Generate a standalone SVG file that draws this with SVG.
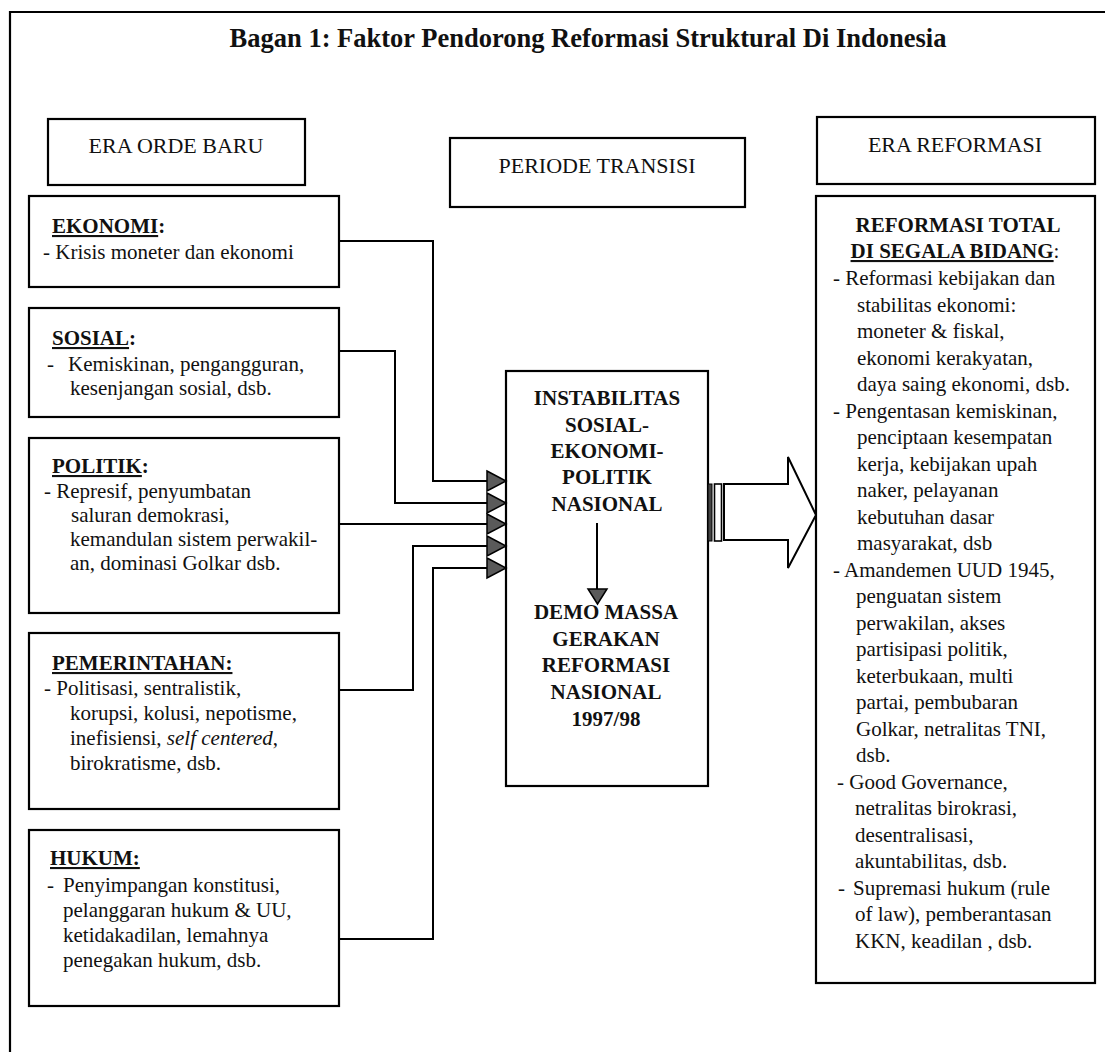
<svg xmlns="http://www.w3.org/2000/svg" width="1105" height="1052" viewBox="0 0 1105 1052">
<style>
.box{fill:#fff;stroke:#000;stroke-width:2.2}
.t{font-family:"Liberation Serif","Times New Roman",serif;font-size:21px;fill:#111}
.b{font-weight:bold}
.c{text-anchor:middle}
.u{text-decoration:underline}
.i{font-style:italic}
.conn{fill:none;stroke:#000;stroke-width:2}
.ah{fill:#5a5a5a;stroke:#000;stroke-width:1.5;stroke-linejoin:miter}
</style>
<rect x="0" y="0" width="1105" height="1052" fill="#fff"/>
<g id="frame">
<path d="M10,1052 V12 H1105" fill="none" stroke="#000" stroke-width="2.2"/>
</g>
<g id="title">
<text class="t b c" x="588" y="47" style="font-size:26.5px">Bagan 1: Faktor Pendorong Reformasi Struktural Di Indonesia</text>
</g>
<g id="era-orde-baru">
<rect class="box" x="48" y="119" width="257" height="66"/>
<text class="t c" x="176" y="153" style="font-size:22px">ERA ORDE BARU</text>
</g>
<g id="periode-transisi">
<rect class="box" x="450" y="138" width="295" height="69"/>
<text class="t c" x="597" y="173" style="font-size:22px">PERIODE TRANSISI</text>
</g>
<g id="era-reformasi">
<rect class="box" x="817" y="117" width="278" height="67"/>
<text class="t c" x="955" y="152" style="font-size:22px">ERA REFORMASI</text>
</g>
<g id="ekonomi">
<rect class="box" x="29" y="196" width="310" height="91"/>
<text class="t b" x="52" y="233"><tspan class="u">EKONOMI</tspan>:</text>
<text class="t" x="43" y="259">- Krisis moneter dan ekonomi</text>
</g>
<g id="sosial">
<rect class="box" x="29" y="308" width="310" height="109"/>
<text class="t b" x="52" y="345"><tspan class="u">SOSIAL</tspan>:</text>
<text class="t" x="47" y="371">-</text>
<text class="t" x="68" y="371">Kemiskinan, pengangguran,</text>
<text class="t" x="70" y="395">kesenjangan sosial, dsb.</text>
</g>
<g id="politik">
<rect class="box" x="29" y="438" width="310" height="175"/>
<text class="t b" x="52" y="473"><tspan class="u">POLITIK</tspan>:</text>
<text class="t" x="44" y="498">- Represif, penyumbatan</text>
<text class="t" x="71" y="522">saluran demokrasi,</text>
<text class="t" x="70" y="546">kemandulan sistem perwakil-</text>
<text class="t" x="70" y="570">an, dominasi Golkar  dsb.</text>
</g>
<g id="pemerintahan">
<rect class="box" x="29" y="633" width="310" height="176"/>
<text class="t b" x="52" y="670"><tspan class="u">PEMERINTAHAN:</tspan></text>
<text class="t" x="44" y="695">- Politisasi, sentralistik,</text>
<text class="t" x="70" y="720">korupsi, kolusi, nepotisme,</text>
<text class="t" x="70" y="745">inefisiensi, <tspan class="i">self centered</tspan>,</text>
<text class="t" x="70" y="770">birokratisme, dsb.</text>
</g>
<g id="hukum">
<rect class="box" x="29" y="830" width="310" height="176"/>
<text class="t b" x="50" y="865"><tspan class="u">HUKUM:</tspan></text>
<text class="t" x="47" y="892">-</text>
<text class="t" x="63" y="892">Penyimpangan konstitusi,</text>
<text class="t" x="63" y="917">pelanggaran hukum &amp;  UU,</text>
<text class="t" x="63" y="942">ketidakadilan, lemahnya</text>
<text class="t" x="63" y="967">penegakan hukum, dsb.</text>
</g>
<g id="instabilitas">
<rect class="box" x="506" y="371" width="202" height="415"/>
<text class="t b c" x="607" y="405">INSTABILITAS</text>
<text class="t b c" x="607" y="432">SOSIAL-</text>
<text class="t b c" x="607" y="458">EKONOMI-</text>
<text class="t b c" x="607" y="484">POLITIK</text>
<text class="t b c" x="607" y="511">NASIONAL</text>
<line x1="597" y1="523" x2="597" y2="592" stroke="#000" stroke-width="2"/>
<polygon class="ah" points="588,589 607,589 597.5,604"/>
<text class="t b c" x="606" y="619">DEMO MASSA</text>
<text class="t b c" x="606" y="646">GERAKAN</text>
<text class="t b c" x="606" y="672">REFORMASI</text>
<text class="t b c" x="606" y="699">NASIONAL</text>
<text class="t b c" x="606" y="726">1997/98</text>
</g>
<g id="reformasi-total">
<rect class="box" x="816" y="196" width="279" height="787"/>
<text class="t b c" x="958" y="232">REFORMASI TOTAL</text>
<text class="t b c" x="955" y="258"><tspan class="u">DI SEGALA BIDANG</tspan><tspan style="font-weight:normal">:</tspan></text>
<text class="t" x="833" y="285">- Reformasi kebijakan dan</text>
<text class="t" x="857" y="311.5">stabilitas ekonomi:</text>
<text class="t" x="857" y="338">moneter &amp; fiskal,</text>
<text class="t" x="857" y="364.5">ekonomi kerakyatan,</text>
<text class="t" x="857" y="391">daya saing ekonomi, dsb.</text>
<text class="t" x="833" y="417.5">- Pengentasan kemiskinan,</text>
<text class="t" x="857" y="444">penciptaan kesempatan</text>
<text class="t" x="857" y="470.5">kerja, kebijakan upah</text>
<text class="t" x="857" y="497">naker, pelayanan</text>
<text class="t" x="857" y="523.5">kebutuhan dasar</text>
<text class="t" x="857" y="550">masyarakat, dsb</text>
<text class="t" x="833" y="576.5">- Amandemen UUD 1945,</text>
<text class="t" x="856" y="603">penguatan sistem</text>
<text class="t" x="856" y="629.5">perwakilan, akses</text>
<text class="t" x="856" y="656">partisipasi politik,</text>
<text class="t" x="856" y="682.5">keterbukaan, multi</text>
<text class="t" x="856" y="709">partai, pembubaran</text>
<text class="t" x="856" y="735.5">Golkar, netralitas TNI,</text>
<text class="t" x="856" y="762">dsb.</text>
<text class="t" x="837" y="788.5">- Good Governance,</text>
<text class="t" x="855" y="815">netralitas birokrasi,</text>
<text class="t" x="855" y="841.5">desentralisasi,</text>
<text class="t" x="855" y="868">akuntabilitas, dsb.</text>
<text class="t" x="838" y="894.5">-</text>
<text class="t" x="853" y="894.5">Supremasi hukum (rule</text>
<text class="t" x="855" y="921">of law),  pemberantasan</text>
<text class="t" x="855" y="947.5">KKN, keadilan , dsb.</text>
</g>
<g id="connectors">
<path class="conn" d="M339,241 H433 V481 H488"/>
<path class="conn" d="M339,351 H395 V503 H488"/>
<path class="conn" d="M339,524 H488"/>
<path class="conn" d="M339,690 H413 V546 H488"/>
<path class="conn" d="M339,939 H433 V568 H488"/>
<polygon class="ah" points="487,471 506,481 487,491"/>
<polygon class="ah" points="487,493 506,503 487,513"/>
<polygon class="ah" points="487,514 506,524 487,534"/>
<polygon class="ah" points="487,536 506,546 487,556"/>
<polygon class="ah" points="487,558 506,568 487,578"/>
<rect x="708" y="484" width="4" height="57" fill="#444" stroke="#000" stroke-width="1"/>
<rect x="714.5" y="484" width="7" height="57" fill="#fff" stroke="#000" stroke-width="1.6"/>
<polygon points="724,484 788,484 788,457 816,515 788,568 788,540 724,540" fill="#fff" stroke="#000" stroke-width="2"/>
</g>
</svg>
